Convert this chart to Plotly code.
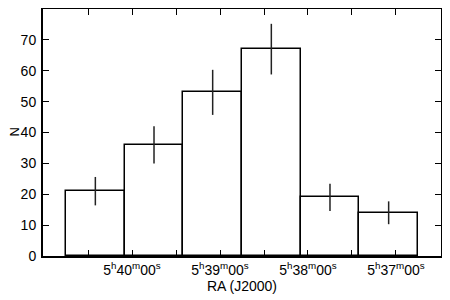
import plotly.graph_objects as go

# RA bin centres in seconds after 5h (bins of 40 s)
ra_centres = [2425, 2385, 2345, 2305, 2265, 2225]
counts = [21, 36, 53, 67, 19, 14]
errors = [4.6, 6.0, 7.3, 8.2, 4.4, 3.7]
bin_width = 40

tick_vals = [2220, 2250, 2280, 2310, 2340, 2370, 2400, 2430]
tick_text = ["5<sup>h</sup>37<sup>m</sup>00<sup>s</sup>", "",
             "5<sup>h</sup>38<sup>m</sup>00<sup>s</sup>", "",
             "5<sup>h</sup>39<sup>m</sup>00<sup>s</sup>", "",
             "5<sup>h</sup>40<sup>m</sup>00<sup>s</sup>", ""]
y_ticks = [0, 10, 20, 30, 40, 50, 60, 70]

fig = go.Figure()
fig.add_trace(go.Bar(
    x=ra_centres, y=counts, width=[bin_width] * len(counts),
    marker=dict(color="white", line=dict(color="black", width=1.5)),
    error_y=dict(type="data", array=errors, visible=True, thickness=1.5,
                 width=0, color="#222"),
    showlegend=False,
))

font = dict(family="Liberation Sans, Arial, sans-serif", size=14, color="black")
fig.update_layout(
    width=442, height=292,
    margin=dict(l=35, r=9, t=1, b=44),
    plot_bgcolor="white", paper_bgcolor="white",
    font=font,
    bargap=0,
    xaxis=dict(
        range=[2460.7, 2189.3], automargin=False,
        tickmode="array", tickvals=tick_vals, ticktext=tick_text,
        ticks="inside", ticklen=6, tickwidth=1.2, tickcolor="black",
        showline=True, linecolor="black", linewidth=2, mirror="ticks",
        showgrid=False, zeroline=False,
        title=dict(text="RA (J2000)", standoff=0, font=font),
    ),
    yaxis=dict(
        range=[0, 80], automargin=False,
        tickmode="array", tickvals=y_ticks,
        ticks="inside", ticklen=6, tickwidth=1.2, tickcolor="black",
        ticklabelstandoff=2,
        showline=True, linecolor="black", linewidth=2, mirror="ticks",
        showgrid=False, zeroline=False,
    ),
    annotations=[dict(
        text="N", xref="paper", yref="paper", x=0, y=0.5,
        xanchor="center", yanchor="middle", xshift=-29, textangle=-90,
        showarrow=False, font=dict(family=font["family"], size=13, color="black"),
        borderpad=0,
    )],
)

fig.write_html("out.html")
